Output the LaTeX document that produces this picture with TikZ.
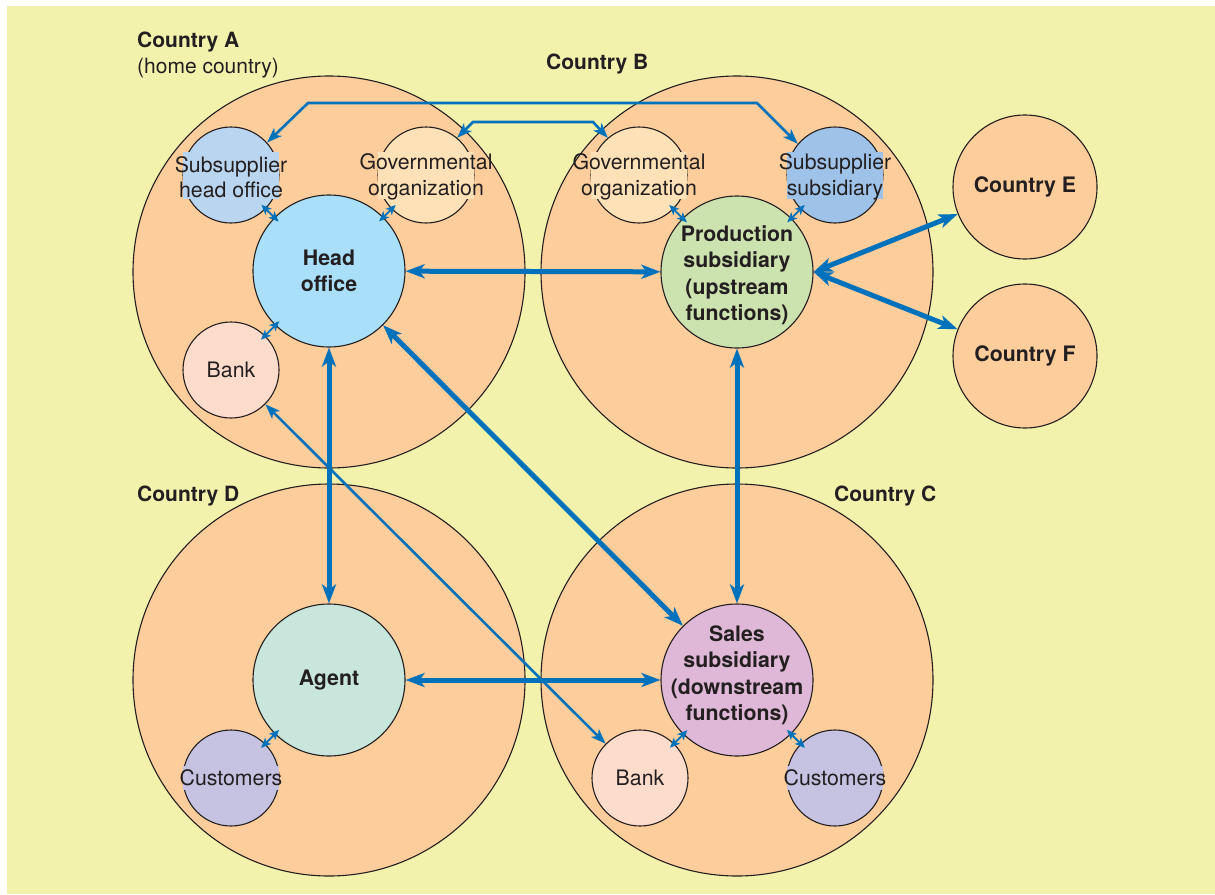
\documentclass[tikz,border=0pt]{standalone}
\usepackage{fontspec}
\setmainfont{TeX Gyre Heros}
\usetikzlibrary{arrows.meta}
\definecolor{bgyellow}{RGB}{243,242,172}
\definecolor{corange}{RGB}{253,205,155}
\definecolor{hoblue}{RGB}{169,223,249}
\definecolor{prodgreen}{RGB}{205,227,175}
\definecolor{agentgreen}{RGB}{200,230,220}
\definecolor{salespink}{RGB}{222,184,214}
\definecolor{shoblue}{RGB}{186,213,239}
\definecolor{govcream}{RGB}{254,225,182}
\definecolor{sssblue}{RGB}{158,194,232}
\definecolor{bankpink}{RGB}{253,220,204}
\definecolor{custlav}{RGB}{198,195,226}
\definecolor{arrblue}{RGB}{0,114,188}
\definecolor{txt}{RGB}{35,31,32}
\begin{document}
\begin{tikzpicture}[x=1pt,y=-1pt,
  outline/.style={draw=txt, line width=1.1pt},
  country/.style={circle, outline, fill=corange, minimum size=392pt, inner sep=0pt},
  farcountry/.style={circle, outline, fill=corange, minimum size=144pt, inner sep=0pt},
  midcirc/.style={circle, outline, fill=#1, minimum size=152pt, inner sep=0pt},
  smallcirc/.style={circle, outline, fill=#1, minimum size=96pt, inner sep=0pt},
  band/.style={fill=#1, minimum width=96pt, inner sep=0pt},
  boldtxt/.style={font=\bfseries\fontsize{21.3}{26.5}\selectfont, align=center, text=txt, inner sep=0pt},
  plaintxt/.style={font=\fontsize{21.3}{25.5}\selectfont, align=center, text=txt, inner sep=0pt},
  ctrylbl/.style={font=\bfseries\fontsize{21}{24}\selectfont, text=txt, inner sep=0pt, anchor=base west},
  homelbl/.style={font=\fontsize{21}{24}\selectfont, text=txt, inner sep=0pt, anchor=base west},
  thickarr/.style={arrblue, line width=5pt, {Stealth[length=19pt,width=14pt,inset=5pt]}-{Stealth[length=19pt,width=14pt,inset=5pt]}},
  thinarr/.style={arrblue, line width=2.6pt, {Stealth[length=15pt,width=11pt,inset=4pt]}-{Stealth[length=15pt,width=11pt,inset=4pt]}},
  tinyarr/.style={arrblue, line width=1.8pt, shorten <=-6pt, shorten >=-6pt, {Stealth[length=10pt,width=8.5pt,inset=2.5pt]}-{Stealth[length=10pt,width=8.5pt,inset=2.5pt]}}
]
\useasboundingbox (0,0) rectangle (1215,894);
\fill[white] (0,0) rectangle (1215,894);
\fill[bgyellow] (7,6) rectangle (1215,894);

% country circles
\node[country] (cA) at (329,272) {};
\node[country] (cB) at (737,272) {};
\node[country] (cD) at (329,680) {};
\node[country] (cC) at (737,680) {};
\node[farcountry] (cE) at (1025,187) {};
\node[farcountry] (cF) at (1025,356) {};

% main circles
\node[midcirc=hoblue] (ho) at (329,271) {};
\node[midcirc=prodgreen] (prod) at (737,272) {};
\node[midcirc=agentgreen] (agent) at (329,680) {};
\node[midcirc=salespink] (sales) at (737,680) {};

% small circles
\node[smallcirc=shoblue] (shoA) at (231,175) {};
\node[smallcirc=govcream] (govA) at (426,175) {};
\node[smallcirc=govcream] (govB) at (639,175) {};
\node[smallcirc=sssblue] (sss) at (835,175) {};
\node[smallcirc=bankpink] (bankA) at (231,370) {};
\node[smallcirc=custlav] (custD) at (231,778) {};
\node[smallcirc=bankpink] (bankC) at (640,778) {};
\node[smallcirc=custlav] (custC) at (835,778) {};

% bands behind overflowing texts
\node[band=shoblue, minimum height=47pt] (bshoA) at (231,175.5) {};
\node[band=govcream, minimum height=47pt] (bgovA) at (426,175.5) {};
\node[band=govcream, minimum height=47pt] (bgovB) at (639,175.5) {};
\node[band=sssblue, minimum height=47pt] (bsss) at (835,175.5) {};
\node[band=custlav, minimum height=24pt] (bcustD) at (231,778) {};
\node[band=custlav, minimum height=24pt] (bcustC) at (835,778) {};

% texts
\node[plaintxt] (tshoA) at (231,177) {Subsupplier\\head office};
\node[plaintxt] (tgovA) at (426,177) {Governmental\\organization};
\node[plaintxt] (tgovB) at (639,177) {Governmental\\organization};
\node[plaintxt] (tsss) at (835,177) {Subsupplier\\subsidiary};
\node[plaintxt] (tbankA) at (231,370) {Bank};
\node[plaintxt] (tcustD) at (231,778) {Customers};
\node[plaintxt] (tbankC) at (640,778) {Bank};
\node[plaintxt] (tcustC) at (835,778) {Customers};
\node[boldtxt] (tho) at (329,271) {Head\\office};
\node[boldtxt] (tprod) at (737,275) {Production\\subsidiary\\(upstream\\functions)};
\node[boldtxt] (tagent) at (329,680) {Agent};
\node[boldtxt] (tsales) at (737,675) {Sales\\subsidiary\\(downstream\\functions)};
\node[boldtxt] (tE) at (1025,187) {Country E};
\node[boldtxt] (tF) at (1025,356) {Country F};

% country labels
\node[ctrylbl] (lA) at (137,47) {Country A};
\node[homelbl] (lAh) at (137,73) {(home country)};
\node[ctrylbl] (lB) at (546,69) {Country B};
\node[ctrylbl] (lD) at (137,501) {Country D};
\node[ctrylbl] (lC) at (834,501) {Country C};

% thick connectors
\draw[thickarr] (ho) -- (prod);
\draw[thickarr] (ho) -- (agent);
\draw[thickarr] (prod) -- (sales);
\draw[thickarr] (agent) -- (sales);
\draw[thickarr] (ho) -- (sales);
\draw[thickarr] (prod.east) -- (cE);
\draw[thickarr] (prod.east) -- (cF);

% thin connectors
\draw[thinarr] (bankA) -- (bankC);
\draw[thinarr] (shoA.42) -- (308,103) -- (757,103) -- (sss.140);
\draw[thinarr] (govA.50) -- (473,122) -- (593,122) -- (govB.130);

% tiny connectors
\draw[tinyarr] (shoA) -- (ho);
\draw[tinyarr] (govA) -- (ho);
\draw[tinyarr] (bankA) -- (ho);
\draw[tinyarr] (govB) -- (prod);
\draw[tinyarr] (sss) -- (prod);
\draw[tinyarr] (custD) -- (agent);
\draw[tinyarr] (bankC) -- (sales);
\draw[tinyarr] (custC) -- (sales);
\end{tikzpicture}
\end{document}
